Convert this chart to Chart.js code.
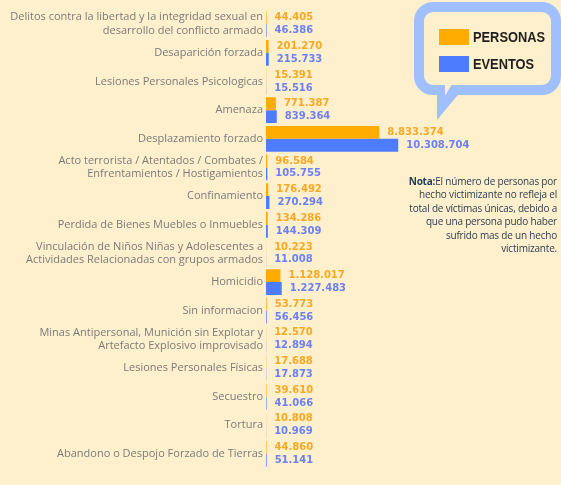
<!DOCTYPE html>
<html>
<head>
<meta charset="utf-8">
<script src="https://cdn.jsdelivr.net/npm/chart.js@4.4.1/dist/chart.umd.min.js"></script>
<style>
  body { margin: 0; background: #fef0cd; }
  #wrap { position: relative; width: 561px; height: 485px; overflow: hidden; }
  #nota {
    position: absolute; right: 4px; top: 175px;
    font-family: "Open Sans", sans-serif; font-size: 10px; line-height: 13.4px;
    letter-spacing: -0.2px;
    color: #2b3d52; text-align: right; white-space: nowrap;
  }
  #nota b { color: #1d3a5e; }
</style>
</head>
<body>
<div id="wrap">
  <canvas id="chart" width="561" height="485"></canvas>
  <div id="nota"><b>Nota:</b>El número de personas por<br>hecho victimizante no refleja el<br>total de víctimas únicas, debido a<br>que una persona pudo haber<br>sufrido mas de un hecho<br>victimizante.</div>
</div>
<script>
var categorias = [
  ['Delitos contra la libertad y la integridad sexual en', 'desarrollo del conflicto armado'],
  'Desaparición forzada',
  'Lesiones Personales Psicologicas',
  'Amenaza',
  'Desplazamiento forzado',
  ['Acto terrorista / Atentados / Combates /', 'Enfrentamientos / Hostigamientos'],
  'Confinamiento',
  'Perdida de Bienes Muebles o Inmuebles',
  ['Vinculación de Niños Niñas y Adolescentes a', 'Actividades Relacionadas con grupos armados'],
  'Homicidio',
  'Sin informacion',
  ['Minas Antipersonal, Munición sin Explotar y', 'Artefacto Explosivo improvisado'],
  'Lesiones Personales Físicas',
  'Secuestro',
  'Tortura',
  'Abandono o Despojo Forzado de Tierras'
];
var personas = [44405, 201270, 15391, 771387, 8833374, 96584, 176492, 134286, 10223, 1128017, 53773, 12570, 17688, 39610, 10808, 44860];
var eventos = [46386, 215733, 15516, 839364, 10308704, 105755, 270294, 144309, 11008, 1227483, 56456, 12894, 17873, 41066, 10969, 51141];

var colorPersonas = '#ffab00';
var colorEventos = '#4d7cfe';

function miles(n) {
  return String(n).replace(/\B(?=(\d{3})+(?!\d))/g, '.');
}

// numeros al final de cada barra
var etiquetas = {
  id: 'etiquetas',
  afterDatasetsDraw: function (chart) {
    var ctx = chart.ctx;
    ctx.save();
    ctx.font = 'bold 10px "DejaVu Sans", sans-serif';
    ctx.textBaseline = 'middle';
    ctx.textAlign = 'left';
    var colores = ['#f9a823', '#6b80f7'];
    chart.data.datasets.forEach(function (ds, i) {
      var meta = chart.getDatasetMeta(i);
      ctx.fillStyle = colores[i];
      meta.data.forEach(function (bar, j) {
        ctx.fillText(miles(ds.data[j]), bar.x + 8, bar.y);
      });
    });
    ctx.restore();
  }
};

// globo con la leyenda
var globo = {
  id: 'globo',
  afterDraw: function (chart) {
    var ctx = chart.ctx;
    var l = 419, t = 7, r = 556, b = 90, rad = 14;
    ctx.save();
    ctx.beginPath();
    ctx.moveTo(l + rad, t);
    ctx.lineTo(r - rad, t);
    ctx.arcTo(r, t, r, t + rad, rad);
    ctx.lineTo(r, b - rad);
    ctx.arcTo(r, b, r - rad, b, rad);
    ctx.lineTo(l + rad, b);
    ctx.arcTo(l, b, l, b - rad, rad);
    ctx.lineTo(l, t + rad);
    ctx.arcTo(l, t, l + rad, t, rad);
    ctx.closePath();
    ctx.fillStyle = '#fef0cd';
    ctx.fill();
    ctx.lineWidth = 10;
    ctx.strokeStyle = '#9fbfff';
    ctx.stroke();
    // cola del globo
    ctx.beginPath();
    ctx.moveTo(437, 90);
    ctx.lineTo(462, 90);
    ctx.lineTo(437, 120);
    ctx.closePath();
    ctx.fillStyle = '#9fbfff';
    ctx.fill();
    ctx.beginPath();
    ctx.moveTo(445, 84);
    ctx.lineTo(452, 84);
    ctx.lineTo(445, 96);
    ctx.closePath();
    ctx.fillStyle = '#fef0cd';
    ctx.fill();

    ctx.fillStyle = colorPersonas;
    ctx.fillRect(439, 29, 30, 16);
    ctx.fillStyle = colorEventos;
    ctx.fillRect(439, 56, 30, 16);
    ctx.fillStyle = '#1f1f1f';
    ctx.font = 'bold 15px "Liberation Sans", sans-serif';
    ctx.textBaseline = 'middle';
    var sx = 72 / ctx.measureText('PERSONAS').width;
    ctx.translate(473, 0);
    ctx.scale(sx, 1);
    ctx.fillText('PERSONAS', 0, 38);
    ctx.fillText('EVENTOS', 0, 65);
    ctx.restore();
  }
};

var ctx = document.getElementById('chart').getContext('2d');
var chart = new Chart(ctx, {
  type: 'bar',
  data: {
    labels: categorias,
    datasets: [
      { label: 'PERSONAS', data: personas, backgroundColor: colorPersonas },
      { label: 'EVENTOS', data: eventos, backgroundColor: colorEventos }
    ]
  },
  options: {
    indexAxis: 'y',
    responsive: false,
    animation: false,
    devicePixelRatio: 1,
    layout: { padding: { top: 6, bottom: 0, right: 0, left: 0 } },
    datasets: { bar: { categoryPercentage: 0.9, barPercentage: 1 } },
    plugins: { legend: { display: false }, tooltip: { enabled: false } },
    scales: {
      x: { display: false, min: 0, max: 23000000 },
      y: {
        grid: { display: false, drawTicks: false },
        border: { display: false },
        ticks: {
          color: '#7a7a7a',
          padding: 3,
          autoSkip: false,
          font: { family: '"Open Sans", sans-serif', size: 11, lineHeight: 1.25 }
        },
        afterFit: function (scale) { scale.width = 266; }
      }
    }
  },
  plugins: [etiquetas, globo]
});
</script>
</body>
</html>
